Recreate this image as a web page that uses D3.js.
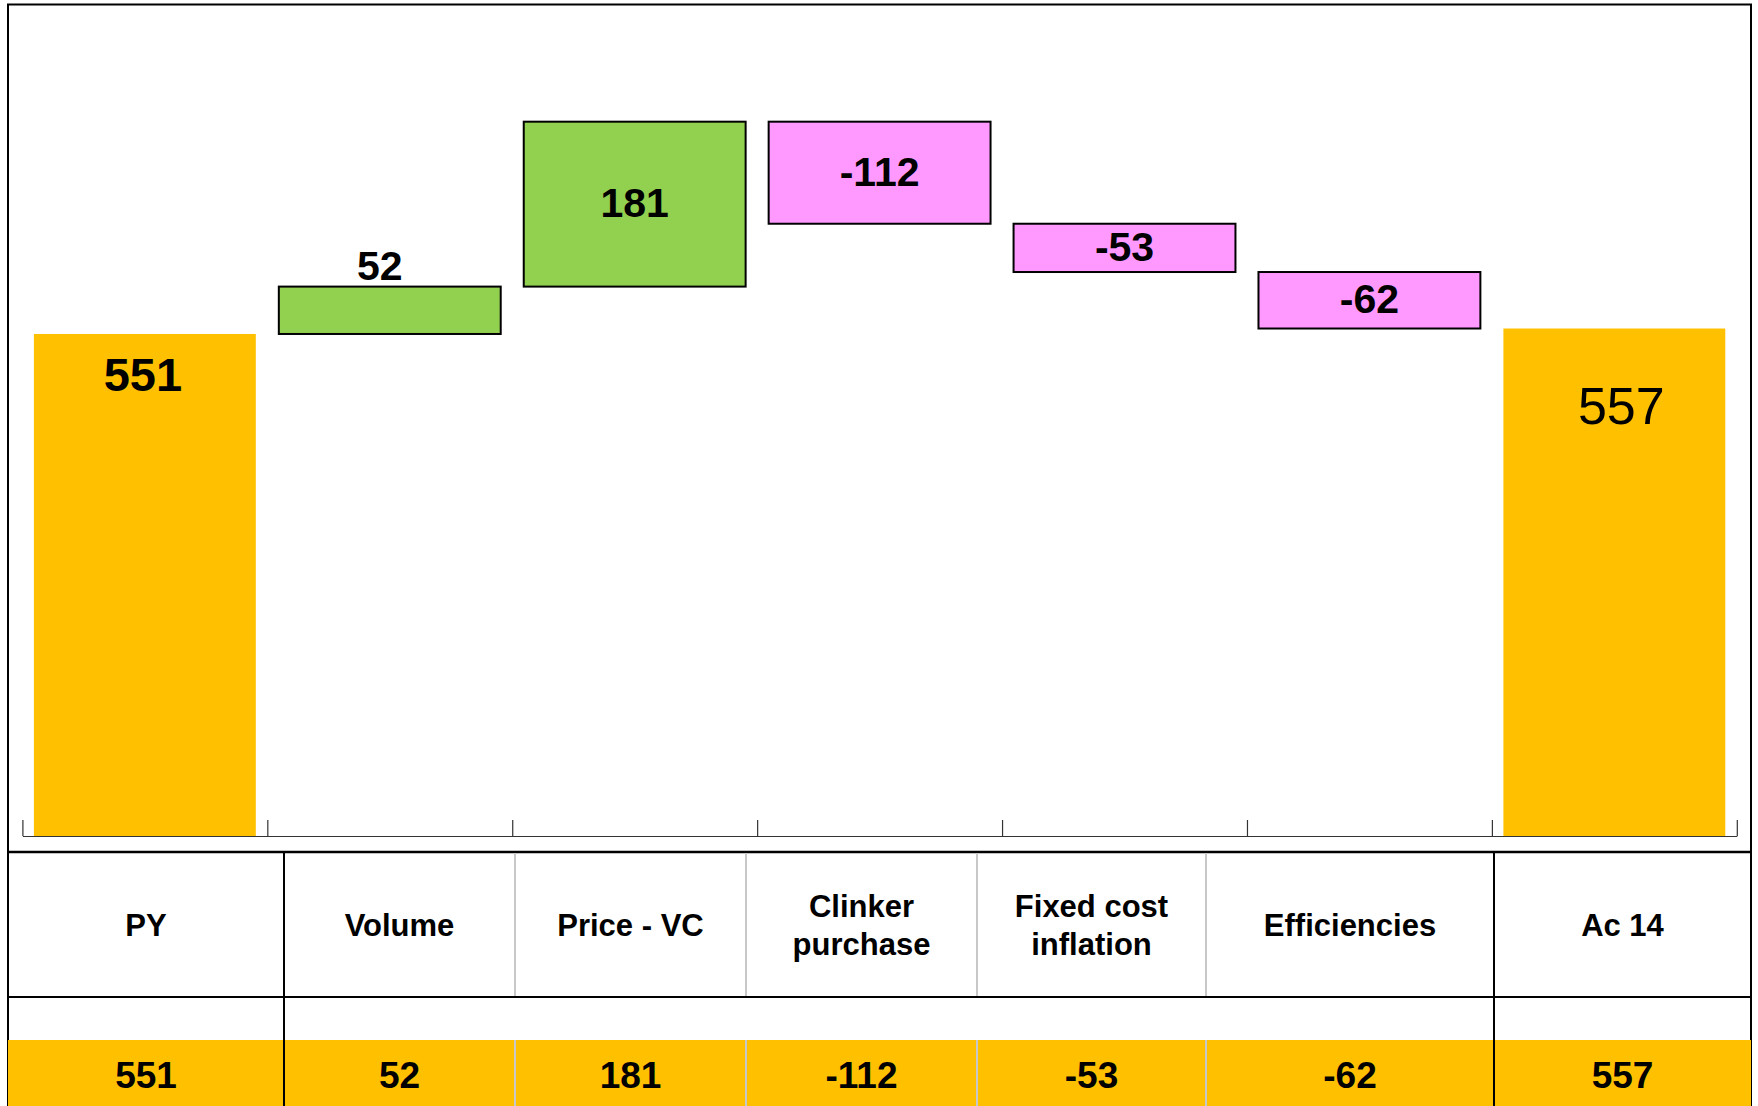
<!DOCTYPE html>
<html>
<head>
<meta charset="utf-8">
<script src="https://cdn.jsdelivr.net/npm/d3@7"></script>
<style>
  html, body { margin: 0; padding: 0; background: #fff; }
  svg { display: block; font-family: "Liberation Sans", Arial, sans-serif; }
</style>
</head>
<body>
<svg id="chart" width="1758" height="1106"></svg>
<script>
// ---- data ----
const categories = ["PY", "Volume", "Price - VC", "Clinker purchase", "Fixed cost inflation", "Efficiencies", "Ac 14"];
const tableLabels = [["PY"], ["Volume"], ["Price - VC"], ["Clinker", "purchase"], ["Fixed cost", "inflation"], ["Efficiencies"], ["Ac 14"]];
const values = [551, 52, 181, -112, -53, -62, 557];
const kinds = ["total", "delta", "delta", "delta", "delta", "delta", "total"];
const yMax = 900;

// ---- layout ----
const W = 1758, H = 1106;
const plotLeft = 22.4, plotRight = 1736.8, baseY = 836, topY = 16;
const tableTop = 852, row1Bottom = 997, yellowTop = 1040;
const frameLeft = 8, frameRight = 1751;
const colWeights = [276, 231, 231, 231, 229, 288, 257];

const colors = { total: "#FFC000", up: "#92D050", down: "#FF99FF" };

const svg = d3.select("#chart");

// waterfall computation
let running = 0;
const bars = values.map((v, i) => {
  let y0, y1, type;
  if (kinds[i] === "total") { y0 = 0; y1 = v; running = v; type = "total"; }
  else { y0 = running; y1 = running + v; running = y1; type = v >= 0 ? "up" : "down"; }
  return { cat: categories[i], value: v, lo: Math.min(y0, y1), hi: Math.max(y0, y1), type };
});

const x = d3.scaleBand().domain(categories).range([plotLeft, plotRight])
  .paddingInner(0.094).paddingOuter(0.047);
const y = d3.scaleLinear().domain([0, yMax]).range([baseY, topY]);

// outer frame
svg.append("rect").attr("x", frameLeft).attr("y", 4.5)
  .attr("width", frameRight - frameLeft).attr("height", H + 10)
  .attr("fill", "none").attr("stroke", "#000").attr("stroke-width", 2);

// bars
svg.append("g").selectAll("rect").data(bars).join("rect")
  .attr("x", d => x(d.cat))
  .attr("width", x.bandwidth())
  .attr("y", d => y(d.hi))
  .attr("height", d => y(d.lo) - y(d.hi))
  .attr("fill", d => colors[d.type])
  .attr("stroke", d => d.type === "total" ? "none" : "#000")
  .attr("stroke-width", 2);

// axis baseline with ticks at band boundaries
const bx = d3.scaleLinear().domain([0, categories.length]).range([plotLeft, plotRight]);
const axis = svg.append("g").attr("transform", `translate(0,${baseY})`)
  .call(d3.axisTop(bx).tickValues(d3.range(categories.length + 1)).tickSize(16).tickSizeOuter(0).tickFormat(""));
axis.selectAll("path,line").attr("stroke", "#333").attr("stroke-width", 1.2);

// bar labels
const labels = svg.append("g").attr("font-weight", "bold").attr("fill", "#000").attr("text-anchor", "middle");
bars.forEach((d, i) => {
  const cx = x(d.cat) + x.bandwidth() / 2;
  if (d.type === "total" && i === 0) {
    labels.append("text").attr("x", cx - 2).attr("y", y(d.hi) + 57)
      .attr("font-size", 47).text(d.value);
  } else if (d.type === "total") {
    labels.append("text").attr("x", cx + 7).attr("y", y(d.hi) + 95)
      .attr("font-size", 52).attr("font-weight", "normal").text(d.value);
  } else if (y(d.lo) - y(d.hi) < 55 && d.value > 0) {
    labels.append("text").attr("x", cx - 10).attr("y", y(d.hi) - 7)
      .attr("font-size", 41).text(d.value);
  } else {
    labels.append("text").attr("x", cx).attr("y", (y(d.lo) + y(d.hi)) / 2)
      .attr("dy", "0.32em").attr("font-size", 41).text(d.value);
  }
});

// ---- table ----
const totalW = d3.sum(colWeights);
const edges = [frameLeft];
colWeights.forEach(w => edges.push(edges[edges.length - 1] + w * (frameRight - frameLeft) / totalW));

svg.append("rect").attr("x", frameLeft).attr("y", yellowTop)
  .attr("width", frameRight - frameLeft).attr("height", H - yellowTop + 5).attr("fill", "#FFC000");

// horizontal lines
svg.append("line").attr("x1", frameLeft).attr("x2", frameRight).attr("y1", tableTop).attr("y2", tableTop)
  .attr("stroke", "#000").attr("stroke-width", 2.5);
svg.append("line").attr("x1", frameLeft).attr("x2", frameRight).attr("y1", row1Bottom).attr("y2", row1Bottom)
  .attr("stroke", "#000").attr("stroke-width", 2);

// vertical dividers
edges.slice(1, -1).forEach((ex, k) => {
  const i = k + 1;
  const major = (i === 1 || i === categories.length - 1);
  if (major) {
    svg.append("line").attr("x1", ex).attr("x2", ex).attr("y1", tableTop).attr("y2", H)
      .attr("stroke", "#000").attr("stroke-width", 2);
  } else {
    svg.append("line").attr("x1", ex).attr("x2", ex).attr("y1", tableTop + 1).attr("y2", row1Bottom - 1)
      .attr("stroke", "#c8c8c8").attr("stroke-width", 2);
    svg.append("line").attr("x1", ex).attr("x2", ex).attr("y1", yellowTop).attr("y2", H)
      .attr("stroke", "#c8c8c8").attr("stroke-width", 2);
  }
});

// header labels
const hdr = svg.append("g").attr("font-weight", "bold").attr("text-anchor", "middle").attr("font-size", 31);
tableLabels.forEach((lines, i) => {
  const cx = (edges[i] + edges[i + 1]) / 2;
  const cy = (tableTop + row1Bottom) / 2;
  const lh = 38;
  const t = hdr.append("text").attr("x", cx);
  lines.forEach((ln, j) => {
    t.append("tspan").attr("x", cx)
      .attr("y", cy + (j - (lines.length - 1) / 2) * lh)
      .attr("dy", "0.36em").text(ln);
  });
});

// value row
const vals = svg.append("g").attr("font-weight", "bold").attr("text-anchor", "middle").attr("font-size", 37);
values.forEach((v, i) => {
  const cx = (edges[i] + edges[i + 1]) / 2;
  vals.append("text").attr("x", cx).attr("y", 1088).text(v);
});
</script>
</body>
</html>
